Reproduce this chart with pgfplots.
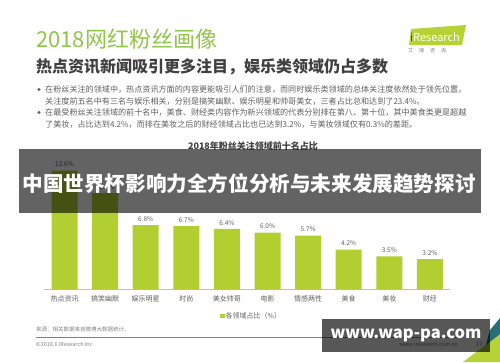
\documentclass[border=0pt]{standalone}
\usepackage{pgfplots}
\pgfplotsset{compat=1.18}
\usepackage{fontspec}
\setmainfont{Noto Sans CJK SC}
\definecolor{barg}{RGB}{178,207,50}
\definecolor{titg}{RGB}{146,197,75}
\definecolor{subg}{RGB}{64,64,64}
\definecolor{txtg}{RGB}{95,95,95}
\definecolor{lgtg}{RGB}{130,130,130}
\definecolor{logog}{RGB}{181,211,52}
\definecolor{teal}{RGB}{40,110,120}
\begin{document}
\begin{tikzpicture}
\begin{scope}[x=1pt,y=-1pt]
\fill[white] (0,0) rectangle (500,362);
\path[use as bounding box] (0,0) rectangle (500,362);
% title
\node[anchor=west,text=titg,inner sep=0] at (36,39) {\fontsize{22}{24}\selectfont 2018网红粉丝画像};
\node[anchor=west,text=subg,inner sep=0] at (36,67) {\fontsize{16}{18}\selectfont\bfseries 热点资讯新闻吸引更多注目，娱乐类领域仍占多数};
% logo
\fill[logog] (411,29) -- (466,25) -- (462,45) -- (409,45) -- cycle;
\node[anchor=west,text=white,inner sep=0] at (410,37) {\fontsize{11}{12}\selectfont\textcolor{subg}{i}Research};
\node[anchor=west,text=lgtg,inner sep=0] at (408,51) {\fontsize{5}{6}\selectfont 艾\hspace{6pt}瑞\hspace{6pt}咨\hspace{6pt}询};
% bullets
\fill[txtg] (39,89.5) circle (1.6);
\fill[txtg] (39,112.5) circle (1.6);
\node[anchor=west,text=txtg,inner sep=0] at (45,89.5) {\fontsize{8.1}{9}\selectfont 在粉丝关注的领域中，热点资讯方面的内容更能吸引人们的注意，而同时娱乐类领域的总体关注度依然处于领先位置。};
\node[anchor=west,text=txtg,inner sep=0] at (45,101) {\fontsize{8.1}{9}\selectfont 关注度前五名中有三名与娱乐相关，分别是搞笑幽默、娱乐明星和帅哥美女，三者占比总和达到了23.4\%。};
\node[anchor=west,text=txtg,inner sep=0] at (45,112.5) {\fontsize{8.1}{9}\selectfont 在最受粉丝关注领域的前十名中，美食、财经类内容作为新兴领域的代表分别排在第八、第十位，其中美食类更是超越};
\node[anchor=west,text=txtg,inner sep=0] at (45,124.5) {\fontsize{8.1}{9}\selectfont 了美妆，占比达到4.2\%，而排在美妆之后的财经领域占比也已达到3.2\%，与美妆领域仅有0.3\%的差距。};
% chart title
\node[text=subg,inner sep=0] at (253,146) {\fontsize{9}{10}\selectfont\bfseries 2018年粉丝关注领域前十名占比};
% legend
\fill[barg] (220,313.5) rectangle (224.5,318);
\node[anchor=west,text=txtg,inner sep=0] at (225.5,316) {\fontsize{7}{8}\selectfont 各领域占比（\%）};
% footer
\node[anchor=west,text=lgtg,inner sep=0] at (36,329) {\fontsize{5.5}{6}\selectfont 来源：相关数据来自微博大数据统计。};
\draw[lgtg,line width=0.6pt] (36,337.7) -- (462,337.7);
\node[anchor=west,text=lgtg,inner sep=0] at (36,344) {\fontsize{5.5}{6}\selectfont ©2018.6 iResearch Inc};
\node[anchor=east,text=lgtg,inner sep=0] at (458,344) {\fontsize{5.5}{6}\selectfont www.iresearch.com.cn};
\node[text=lgtg,inner sep=0] at (479,344) {\fontsize{6}{7}\selectfont 17};
\fill[logog] (463,362) -- (500,362) -- (500,334) -- cycle;
\fill[teal] (490,330) -- (500,318) -- (500,334) -- (486,345) -- cycle;
\end{scope}
\begin{axis}[
  at={(44.2pt,-289.3pt)}, anchor=south west,
  scale only axis, width=406pt, height=132pt,
  xmin=-0.5, xmax=9.5, ymin=0, ymax=14,
  ybar, bar width=26pt,
  axis x line*=bottom, axis y line=none,
  x axis line style={draw=black!25, line width=0.8pt},
  xtick={0,...,9}, major tick length=0pt,
  xticklabels={热点资讯,搞笑幽默,娱乐明星,时尚,美女帅哥,电影,情感两性,美食,美妆,财经},
  xticklabel style={font=\fontsize{7}{8}\selectfont, text=txtg, yshift=-3pt},
  /pgf/number format/assume math mode=true,
  nodes near coords={\pgfmathprintnumber[fixed,precision=1,fixed zerofill,assume math mode=true]{\pgfplotspointmeta}\%},
  every node near coord/.append style={font=\fontsize{6.5}{7}\selectfont, text=txtg, anchor=south, yshift=2.5pt, inner sep=1pt},
  clip=false,
]
\addplot[fill=barg, draw=none] coordinates {(0,12.6) (1,10.2) (2,6.8) (3,6.7) (4,6.4) (5,6.0) (6,5.7) (7,4.2) (8,3.5) (9,3.2)};
\end{axis}
\begin{scope}[x=1pt,y=-1pt]
\fill[black,opacity=0.61] (19,149) rectangle (481,212.7);
\node[text=white,inner sep=0] at (249,184) {\fontsize{20.6}{24}\selectfont\bfseries 中国世界杯影响力全方位分析与未来发展趋势探讨};
\fill[black,opacity=0.66] (322,319.3) rectangle (490,352.3);
\node[text=white,inner sep=0] at (406,335.5) {\fontsize{16.5}{20}\selectfont\bfseries www.wap-pa.com};
\end{scope}
\end{tikzpicture}
\end{document}
